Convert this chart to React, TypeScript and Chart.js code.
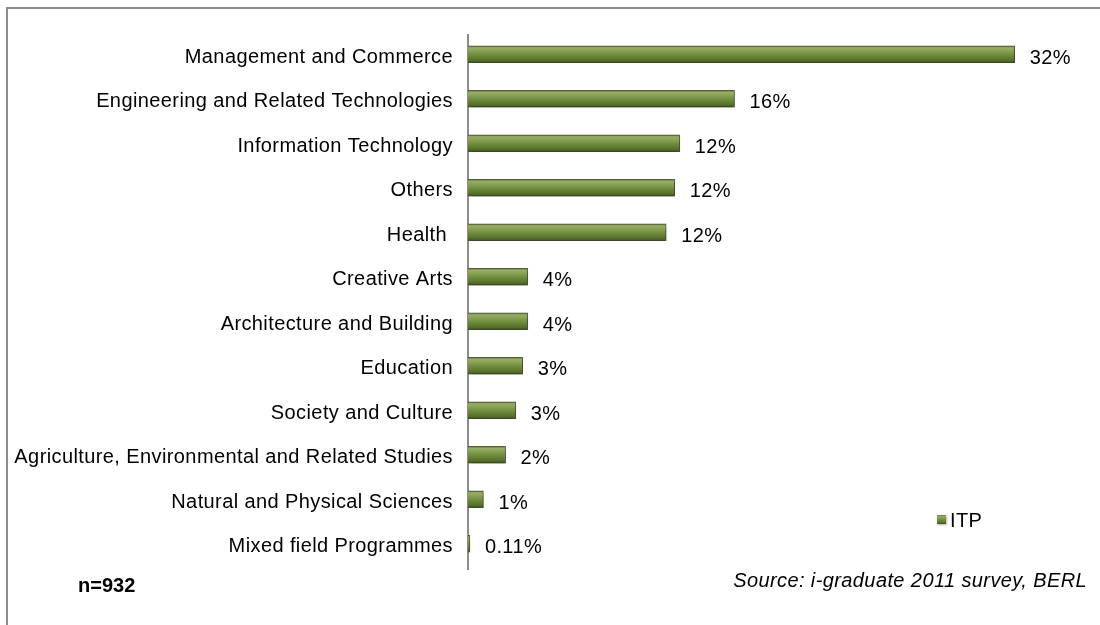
import React, { useEffect, useRef } from "react";
import { Chart, registerables } from "chart.js";

Chart.register(...registerables);

const categories = [
  "Management and Commerce",
  "Engineering and Related Technologies",
  "Information Technology",
  "Others",
  "Health ",
  "Creative Arts",
  "Architecture and Building",
  "Education",
  "Society and Culture",
  "Agriculture, Environmental and Related Studies",
  "Natural and Physical Sciences",
  "Mixed field Programmes",
];
const itpValues = [32.0, 15.6, 12.4, 12.1, 11.6, 3.5, 3.5, 3.2, 2.8, 2.2, 0.9, 0.11];
const valueLabels = ["32%", "16%", "12%", "12%", "12%", "4%", "4%", "3%", "3%", "2%", "1%", "0.11%"];
const seriesName = "ITP";
const sampleNote = "n=932";
const sourceNote = "Source: i-graduate 2011 survey, BERL";

const FONT = '"Liberation Sans", Arial, sans-serif';
const BAR_THICK = 17;
const BAR_SHIFT = -3;

function barGradient(c: CanvasRenderingContext2D, top: number, h: number) {
  const g = c.createLinearGradient(0, top, 0, top + h);
  g.addColorStop(0, "#55692c");
  g.addColorStop(0.12, "#97ad66");
  g.addColorStop(0.3, "#88a255");
  g.addColorStop(0.55, "#6f8b3c");
  g.addColorStop(0.85, "#57702a");
  g.addColorStop(1, "#3b4e1c");
  return g;
}

const decorPlugin = {
  id: "decor",
  beforeDraw(chart: any) {
    chart.ctx.letterSpacing = "0.4px";
  },
  beforeDatasetsDraw(chart: any) {
    const ctx = chart.ctx;
    const meta = chart.getDatasetMeta(0);
    meta.data.forEach((el: any) => {
      const { y, height } = el.getProps(["y", "height"], true);
      if (Number.isFinite(y) && Number.isFinite(height)) {
        el.options = Object.assign({}, el.options, {
          backgroundColor: barGradient(ctx, y - height / 2, height),
        });
      }
    });
    ctx.save();
    ctx.translate(0, BAR_SHIFT);
    ctx.shadowColor = "rgba(0,0,0,0.4)";
    ctx.shadowBlur = 5;
    ctx.shadowOffsetX = 1;
    ctx.shadowOffsetY = 3;
  },
  afterDatasetsDraw(chart: any) {
    const ctx = chart.ctx as CanvasRenderingContext2D;
    ctx.restore();
    const meta = chart.getDatasetMeta(0);
    ctx.save();
    (ctx as any).letterSpacing = "0.4px";
    ctx.fillStyle = "#000";
    ctx.font = `20px ${FONT}`;
    ctx.textAlign = "left";
    ctx.textBaseline = "middle";
    meta.data.forEach((el: any, i: number) => {
      const { x, y } = el.getProps(["x", "y"], true);
      ctx.fillText(valueLabels[i], x + 15, y + 1);
    });

    // legend
    const lx = 937;
    const ly = 515;
    ctx.save();
    ctx.shadowColor = "rgba(0,0,0,0.3)";
    ctx.shadowBlur = 2;
    ctx.shadowOffsetX = 1;
    ctx.shadowOffsetY = 1;
    ctx.fillStyle = barGradient(ctx, ly, 9);
    ctx.fillRect(lx, ly, 9, 9);
    ctx.restore();
    ctx.fillStyle = "#000";
    ctx.fillText(seriesName, 950, 521);

    // footer notes
    ctx.textBaseline = "alphabetic";
    ctx.font = `bold 20px ${FONT}`;
    (ctx as any).letterSpacing = "0px";
    ctx.fillText(sampleNote, 78, 592);
    ctx.font = `italic 20px ${FONT}`;
    (ctx as any).letterSpacing = "0.4px";
    ctx.textAlign = "right";
    ctx.fillText(sourceNote, 1087, 587);
    ctx.restore();
  },
  afterDraw(chart: any) {
    chart.ctx.letterSpacing = "0px";
  },
};

export default function App() {
  const ref = useRef<HTMLCanvasElement | null>(null);

  useEffect(() => {
    if (!ref.current) return;
    const chart = new Chart(ref.current, {
      type: "bar",
      data: {
        labels: categories,
        datasets: [
          {
            label: seriesName,
            data: itpValues,
            barThickness: BAR_THICK,
            borderWidth: 1,
            borderColor: "rgba(55,72,25,0.85)",
            backgroundColor: "#6a8836",
          },
        ],
      },
      options: {
        indexAxis: "y",
        responsive: false,
        animation: false,
        layout: { padding: { left: 0, top: 35, right: 17, bottom: 56 } },
        plugins: {
          legend: { display: false },
          tooltip: { enabled: false },
        },
        scales: {
          x: { type: "linear", min: 0, max: 36, display: false },
          y: {
            type: "category",
            grid: { display: false, drawTicks: false },
            border: { display: true, color: "#8c8c8c", width: 2 },
            ticks: {
              color: "#000",
              padding: 15,
              font: { family: FONT, size: 20 },
            },
            afterFit: (scale: any) => {
              scale.width = 468;
            },
          },
        },
      },
      plugins: [decorPlugin],
    } as any);
    return () => chart.destroy();
  }, []);

  return (
    <div
      style={{
        position: "fixed",
        left: 0,
        top: 0,
        width: 1100,
        height: 625,
        overflow: "hidden",
        background: "#fff",
      }}
    >
      <div
        style={{
          position: "absolute",
          left: 6,
          top: 7,
          width: 1200,
          height: 700,
          border: "2px solid #8c8c8c",
        }}
      />
      <canvas
        ref={ref}
        width={1100}
        height={625}
        style={{ position: "absolute", left: 0, top: 0, width: 1100, height: 625 }}
      />
    </div>
  );
}
